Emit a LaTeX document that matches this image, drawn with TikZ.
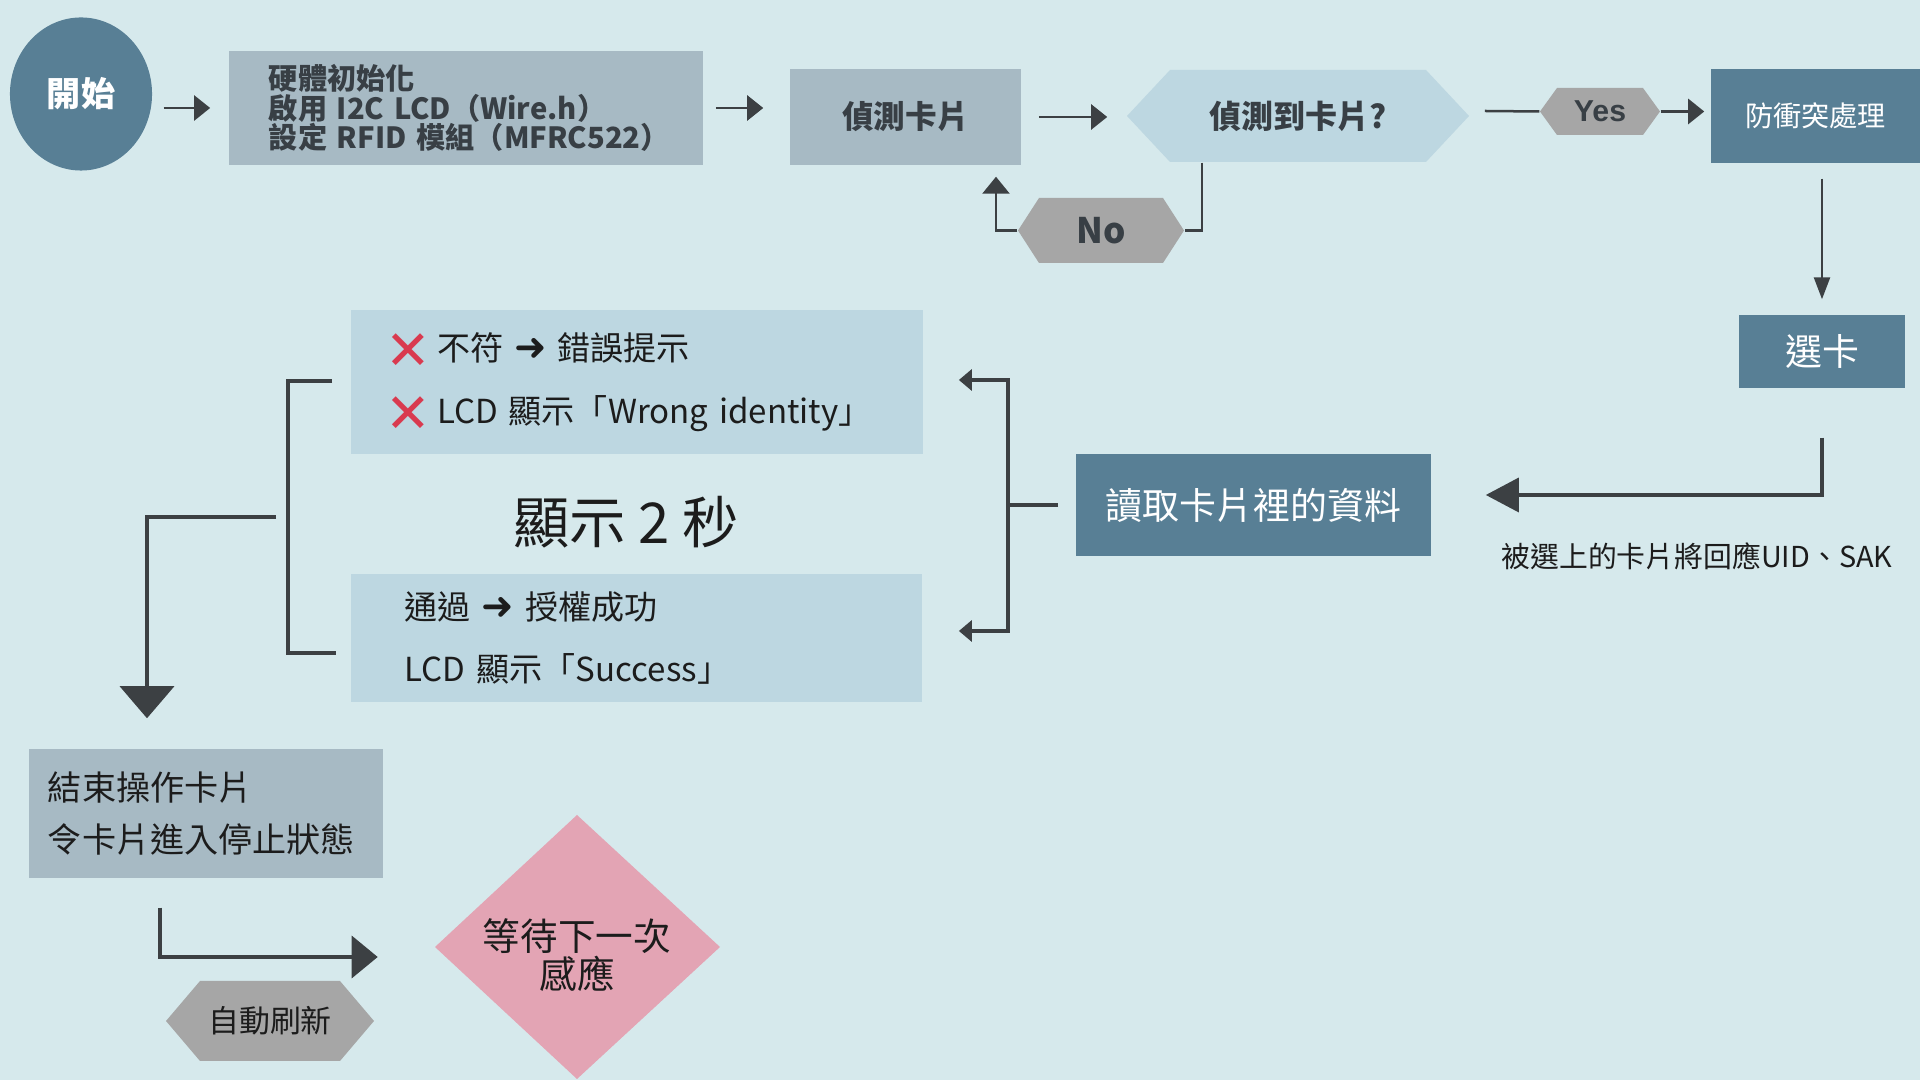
\documentclass[tikz,border=0pt]{standalone}
\usepackage{fontspec}
\setmainfont{Noto Sans CJK TC}
\newfontfamily\symfont{DejaVu Sans}
\newfontfamily\yesfont{Liberation Sans}
\usepackage{tikz}
\usetikzlibrary{arrows.meta,shapes,positioning,calc}

\definecolor{bgcol}{HTML}{D6E9EC}
\definecolor{stblue}{HTML}{587F95}
\definecolor{boxgrey}{HTML}{A7BAC4}
\definecolor{lightblue}{HTML}{BDD7E1}
\definecolor{hexgrey}{HTML}{A6A6A6}
\definecolor{pinkfill}{HTML}{E3A4B4}
\definecolor{linecol}{HTML}{3C4043}
\definecolor{txtdark}{HTML}{383F45}
\definecolor{txtblack}{HTML}{1C1C1C}
\definecolor{xred}{HTML}{D93A4F}

\newcommand{\redx}{\smash{\raisebox{-2.6pt}{\symfont\fontsize{15.5}{15}\selectfont\color{xred}✕}}}
\newcommand{\fatto}{{\symfont\fontsize{11}{11}\selectfont ➜}}

\tikzset{
  startnode/.style={ellipse, fill=stblue, text=white, inner sep=0,
    minimum width=1.42cm, minimum height=1.53cm},
  greybox/.style={rectangle, fill=boxgrey, inner sep=0},
  bluebox/.style={rectangle, fill=stblue, text=white, inner sep=0},
  lightbox/.style={rectangle, fill=lightblue, inner sep=0},
  hexlabel/.style={rectangle, inner sep=0},
  link/.style={draw=linecol, line width=0.025cm},
  fatlink/.style={draw=linecol, line width=0.035cm},
  thinarr/.style={link, -{Triangle[length=0.16cm,width=0.25cm]}},
}

\begin{document}
\begin{tikzpicture}[x=0.01cm,y=-0.01cm]
\fill[bgcol] (0,0) rectangle (1920,1080);
\useasboundingbox (0,0) rectangle (1920,1080);

% hexagons and diamond
\fill[lightblue] (1127,116) -- (1170,70) -- (1426,70) -- (1469,116) -- (1426,162) -- (1170,162) -- cycle;
\fill[hexgrey] (1540,111.5) -- (1557,88) -- (1643,88) -- (1660,111.5) -- (1643,135) -- (1557,135) -- cycle;
\fill[hexgrey] (1018,230.5) -- (1039,198) -- (1163,198) -- (1184,230.5) -- (1163,263) -- (1039,263) -- cycle;
\fill[hexgrey] (166,1021) -- (200,981) -- (340,981) -- (374,1021) -- (340,1061) -- (200,1061) -- cycle;
\fill[pinkfill] (435,947) -- (577,815) -- (720,947) -- (577,1079) -- cycle;

% top row
\node[startnode, font=\bfseries\fontsize{9.7}{10}\selectfont] (start) at (81,94) {開始};
\node[greybox, minimum height=1.13cm, text width=3.94cm, inner xsep=0.4cm, align=left,
  text=txtdark, font=\bfseries\fontsize{8.3}{8.4}\selectfont] (init) at (466,108)
  {硬體初始化\\啟用~I2C~LCD（Wire.h）\\設定~RFID~模組（MFRC522）};
\node[greybox, minimum width=2.31cm, minimum height=0.96cm, text=txtdark,
  font=\bfseries\fontsize{9}{10}\selectfont] (detect) at (905.5,117) {偵測卡片};
\node[hexlabel, minimum width=3.42cm, minimum height=0.92cm, text=txtdark,
  font=\bfseries\fontsize{9.1}{10}\selectfont] (dec) at (1298,116) {偵測到卡片?};
\node[hexlabel, minimum width=1.2cm, minimum height=0.47cm, text=txtdark,
  font=\yesfont\bfseries\fontsize{8.6}{10}\selectfont] (yes) at (1600,111.5) {Yes};
\node[hexlabel, minimum width=1.66cm, minimum height=0.65cm, text=txtdark,
  font=\bfseries\fontsize{10}{11}\selectfont] (no) at (1101,230.5) {No};
\node[bluebox, minimum width=2.09cm, minimum height=0.94cm,
  font=\fontsize{8}{9}\selectfont] (defense) at (1815.5,116) {防衝突處理};

% right column
\node[bluebox, minimum width=1.66cm, minimum height=0.73cm,
  font=\fontsize{10.5}{11}\selectfont] (select) at (1822,351.5) {選卡};
\node[bluebox, minimum width=3.55cm, minimum height=1.02cm,
  font=\fontsize{10.5}{11}\selectfont] (read) at (1253.5,505) {讀取卡片裡的資料};
\node[text=txtblack, font=\fontsize{8.2}{9}\selectfont] (uidlbl) at (1697,556) {被選上的卡片將回應UID、SAK};

% result boxes
\node[lightbox, minimum height=1.44cm, text width=5.02cm, inner xsep=0.35cm, align=left,
  text=txtblack, font=\fontsize{9.4}{18}\selectfont] (err) at (637,382)
  {\redx\,不符 \fatto{} 錯誤提示\\
   \redx\,LCD 顯示「Wrong identity」};
\node[text=txtblack, font=\fontsize{16}{17}\selectfont] (twosec) at (626,522) {顯示 2 秒};
\node[lightbox, minimum height=1.28cm, text width=4.63cm, inner xsep=0.54cm, align=left,
  text=txtblack, font=\fontsize{9.4}{17.4}\selectfont] (succ) at (636.5,638)
  {通過 \fatto{} 授權成功\\LCD 顯示「Success」};

% bottom
\node[greybox, minimum height=1.29cm, text width=3.16cm, inner xsep=0.19cm, align=left,
  text=txtblack, font=\fontsize{9.7}{15}\selectfont] (endbox) at (206,813.5)
  {結束操作卡片\\令卡片進入停止狀態};
\node[hexlabel, minimum width=2.08cm, minimum height=0.8cm, text=txtblack,
  font=\fontsize{8.8}{10}\selectfont] (auto) at (270,1021) {自動刷新};
\node[hexlabel, minimum width=2.85cm, minimum height=2.64cm, align=center, text=txtblack,
  font=\fontsize{10.7}{10.6}\selectfont] (wait) at (577,955) {等待下一次\\感應};

% connectors
\draw[thinarr] ($(start.east |- init.west)+(11,0)$) -- ($(init.west)+(-18,0)$);
\draw[thinarr] ($(init.east)+(12,0)$) -- ($(detect.west |- init.east)+(-26,0)$);
\draw[thinarr] ($(detect.east)+(17,0)$) -- ($(dec.west |- detect.east)+(-19,0)$);
\draw[link] ($(dec.south)+(-96,0)$) |- (no.east);
\draw[link, -{Triangle[length=0.17cm,width=0.27cm]}] (no.west) -| ($(detect.south)+(90.5,11)$);
\draw[link] ($(dec.east)+(15,-5)$) -- (yes.west);
\draw[thinarr] (yes.east) -- ($(defense.west |- yes.east)+(-6,0)$);
\draw[link, -{Triangle[length=0.22cm,width=0.16cm]}] ($(select.north |- defense.south)+(0,15)$) -- ($(select.north)+(0,-15)$);
\draw[fatlink, -{Triangle[length=0.33cm,width=0.34cm]}] ($(select.south)+(0,49)$) |- ($(read.east)+(54,-10)$);

\coordinate (rb) at (1008,505);
\draw[fatlink] ($(read.west)+(-17,0)$) -- (rb);
\draw[fatlink, -{Triangle[length=0.13cm,width=0.21cm]}] (rb) |- ($(err.east)+(35,-2)$);
\draw[fatlink, -{Triangle[length=0.13cm,width=0.21cm]}] (rb) |- ($(succ.east)+(36,-7)$);

\coordinate (lb) at (288,517);
\draw[fatlink] ($(err.west)+(-18,-1)$) -| (lb) |- ($(succ.west)+(-14,15)$);
\draw[fatlink, -{Triangle[length=0.32cm,width=0.54cm]}] ($(lb)+(-12,0)$) -| ($(endbox.north)+(-59,-30)$);
\draw[fatlink, -{Triangle[length=0.26cm,width=0.42cm]}] ($(endbox.south)+(-46,29)$) |- ($(wait.west)+(-56,2)$);
\end{tikzpicture}
\end{document}
